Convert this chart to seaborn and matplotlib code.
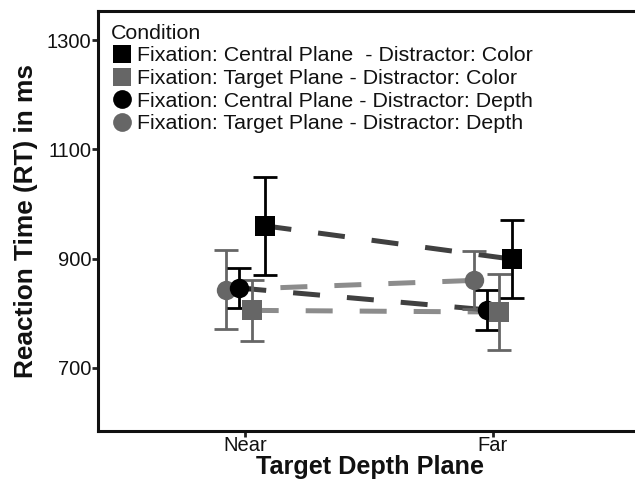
import numpy as np
import pandas as pd
import matplotlib
matplotlib.use("Agg")
import matplotlib.pyplot as plt
from matplotlib.lines import Line2D
import seaborn as sns

# ---- data ----
depth_levels = ["Near", "Far"]
conditions = [
    "Fixation: Central Plane  - Distractor: Color",
    "Fixation: Target Plane - Distractor: Color",
    "Fixation: Central Plane - Distractor: Depth",
    "Fixation: Target Plane - Distractor: Depth",
]
rt_central_color = [960, 899]
se_central_color = [90, 72]
rt_target_color = [805, 802]
se_target_color = [56, 69]
rt_central_depth = [846, 806]
se_central_depth = [37, 37]
rt_target_depth = [843, 860]
se_target_depth = [72, 53]
y_ticks = [700, 900, 1100, 1300]

rts = [rt_central_color, rt_target_color, rt_central_depth, rt_target_depth]
ses = [se_central_color, se_target_color, se_central_depth, se_target_depth]

rows = []
for c, r, s in zip(conditions, rts, ses):
    for d, rv, sv in zip(depth_levels, r, s):
        rows.append({"Condition": c, "Depth": d, "RT": rv, "SE": sv})
df = pd.DataFrame(rows)

# ---- style ----
sns.set_theme(style="ticks")
plt.rcParams["font.family"] = ["Liberation Sans", "DejaVu Sans"]

colors = {conditions[0]: "#000000", conditions[1]: "#666666",
          conditions[2]: "#000000", conditions[3]: "#666666"}
markers = {conditions[0]: "s", conditions[1]: "s",
           conditions[2]: "o", conditions[3]: "o"}
dodge = {conditions[3]: -0.077, conditions[2]: -0.025,
         conditions[1]: 0.025, conditions[0]: 0.077}

df["xpos"] = df["Depth"].map({d: i for i, d in enumerate(depth_levels)}) + df["Condition"].map(dodge)

W, H = 635, 482
fig = plt.figure(figsize=(W / 100, H / 100), dpi=100)
x0, x1 = -0.595, 1.6
left_px, near_px, far_px = 98.3, 245.0, 492.7
ppu = far_px - near_px
right_px = near_px + x1 * ppu
bot_px, top_px = 430.7, 11.0
ax = fig.add_axes([left_px / W, 1 - bot_px / H, (right_px - left_px) / W, (bot_px - top_px) / H])

draw_order = [conditions[3], conditions[2], conditions[1], conditions[0]]
lw = 3.6
for c in draw_order:
    sub = df[df["Condition"] == c]
    sns.lineplot(data=sub, x="xpos", y="RT", ax=ax, color=colors[c], alpha=0.75,
                 linewidth=lw, dashes=False, legend=False, zorder=2, errorbar=None)
    ax.lines[-1].set_dashes((5.4, 5.4))

for c in draw_order:
    sub = df[df["Condition"] == c]
    ax.errorbar(sub["xpos"], sub["RT"], yerr=sub["SE"], fmt="none",
                ecolor=colors[c], elinewidth=2.0, capsize=8.5, capthick=2.0, zorder=3)
    sns.scatterplot(data=sub, x="xpos", y="RT", ax=ax, color=colors[c],
                    marker=markers[c], s=195, linewidth=0, zorder=4, legend=False)

ax.set_xlim(x0, x1)
ax.set_ylim(584.5, 1353.7)
ax.set_xticks(range(len(depth_levels)))
ax.set_xticklabels(depth_levels)
ax.set_yticks(y_ticks)
ax.tick_params(axis="both", length=4, width=2, color="#222222", labelsize=14.5,
               labelcolor="#111111", pad=1)
ax.tick_params(axis="x", pad=0)
for name, sp in ax.spines.items():
    sp.set_visible(name != "right")
    sp.set_linewidth(2.2)
    sp.set_color("#111111")

ax.set_xlabel("Target Depth Plane", fontsize=18.2, fontweight="bold", labelpad=0,
              color="#111111")
ax.set_ylabel("Reaction Time (RT) in ms", fontsize=18.9, fontweight="bold", labelpad=6,
              color="#111111")

handles = [Line2D([], [], linestyle="None", marker=markers[c], color=colors[c],
                  markersize=13.5, markeredgewidth=0) for c in conditions]
leg = ax.legend(handles, conditions, title="Condition", loc="upper left",
                bbox_to_anchor=(0.0, 1.0), frameon=False, fontsize=15.4,
                title_fontsize=15.4, handlelength=1.0, handletextpad=0.2,
                labelspacing=0.17, borderaxespad=0.2, alignment="left")
for t in leg.get_texts():
    t.set_color("#111111")
leg.get_title().set_color("#111111")

fig.savefig("out.png", dpi=100)
